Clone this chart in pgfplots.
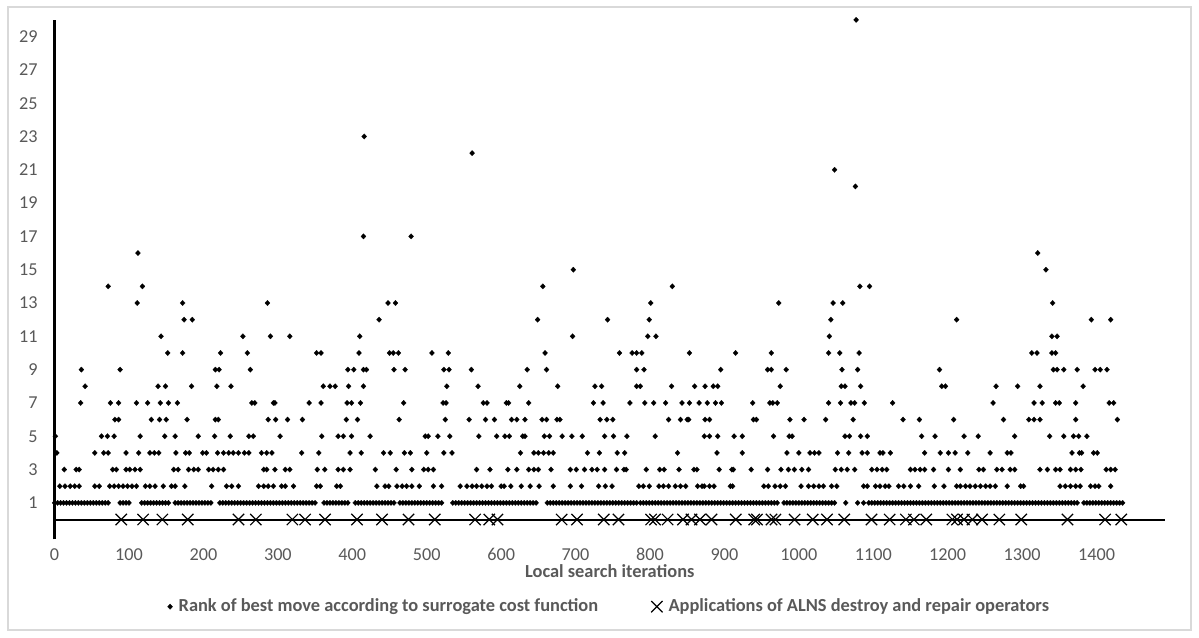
\documentclass[border=0pt]{standalone}
\usepackage{pgfplots}
\pgfplotsset{compat=1.18}
\usepackage{fontspec}
\setmainfont{Carlito}
\definecolor{txt}{HTML}{595959}
\definecolor{frame}{HTML}{D9D9D9}
\begin{document}
\begin{tikzpicture}
\path[use as bounding box] (0,0) rectangle (599.5pt,318.5pt);
\draw[frame,line width=0.6pt] (4pt,3.5pt) rectangle (595.5pt,315pt);
\begin{axis}[
  at={(27.3pt,48.75pt)}, anchor=south west,
  scale only axis, width=555.2pt, height=259.8pt,
  xmin=0, xmax=1492, ymin=-1.2, ymax=30,
  clip=false,
  axis lines*=left,
  x axis line style={draw=none},
  y axis line style={-,line width=1.2pt,black},
  xtick={0,100,...,1400},
  ytick={1,3,...,29},
  major tick length=0pt,
  /pgf/number format/assume math mode=true,
  /pgf/number format/1000 sep={},
  tick label style={font=\fontsize{9.1pt}{10pt}\selectfont, text=txt},
  yticklabel style={xshift=-5pt},
  xticklabel style={yshift=-1pt},
  xlabel={Local search iterations},
  xlabel style={at={(axis description cs:0.5,-0.0606)}, anchor=center, font=\fontsize{9.2pt}{10pt}\selectfont\bfseries, text=txt},
  legend style={at={(axis description cs:0.5,-0.1293)}, anchor=center, draw=none, fill=none,
    font=\fontsize{9.2pt}{10pt}\selectfont\bfseries, text=txt, legend columns=2,
    inner sep=0pt, nodes={inner sep=1.5pt},
    /tikz/every odd column/.append style={column sep=1.5pt},
    /tikz/every even column/.append style={column sep=25pt}},
  legend image code/.code={\draw[#1] plot coordinates {(0pt,0pt)};},
  legend cell align=left,
]
\draw[black,line width=1pt] (axis cs:0,0) -- (axis cs:1492,0);
\addplot[only marks, mark=diamond*, mark size=1.35pt, mark options={xscale=1.25,fill=black,draw=black,line width=0.1pt}] coordinates {
(1077,30)(416,23)(561,22)(1048,21)(1076,20)
(415,17)(479,17)
(112,16)(1321,16)
(697,15)(1332,15)
(72,14)(118,14)(656,14)(830,14)(1082,14)(1095,14)
(111,13)(172,13)(286,13)(448,13)(458,13)(801,13)(973,13)(1046,13)(1059,13)(1341,13)
(174,12)(185,12)(436,12)(649,12)(743,12)(799,12)(1043,12)(1212,12)(1393,12)(1419,12)
(143,11)(253,11)(290,11)(316,11)(410,11)(696,11)(797,11)(808,11)(1041,11)(1340,11)(1347,11)
(152,10)(172,10)(223,10)(259,10)(352,10)(358,10)(409,10)(450,10)(455,10)(462,10)(507,10)(529,10)(659,10)(759,10)(776,10)(782,10)(789,10)(853,10)(915,10)(963,10)(1040,10)(1055,10)(1081,10)(1313,10)(1320,10)(1340,10)(1345,10)
(36,9)(88,9)(216,9)(221,9)(263,9)(394,9)(402,9)(415,9)(419,9)(456,9)(471,9)(523,9)(530,9)(560,9)(635,9)(661,9)(782,9)(792,9)(895,9)(958,9)(963,9)(983,9)(1058,9)(1079,9)(1189,9)(1342,9)(1347,9)(1356,9)(1374,9)(1398,9)(1405,9)(1414,9)
(41,8)(139,8)(149,8)(184,8)(218,8)(237,8)(361,8)(370,8)(377,8)(395,8)(415,8)(527,8)(569,8)(625,8)(676,8)(726,8)(735,8)(782,8)(787,8)(829,8)(860,8)(874,8)(885,8)(891,8)(975,8)(1057,8)(1062,8)(1083,8)(1192,8)(1197,8)(1265,8)(1294,8)(1324,8)(1382,8)
(35,7)(75,7)(86,7)(110,7)(125,7)(142,7)(153,7)(165,7)(265,7)(269,7)(294,7)(296,7)(342,7)(358,7)(393,7)(399,7)(411,7)(469,7)(522,7)(526,7)(576,7)(581,7)(607,7)(610,7)(637,7)(724,7)(737,7)(773,7)(793,7)(805,7)(821,7)(843,7)(853,7)(866,7)(877,7)(888,7)(896,7)(938,7)(961,7)(965,7)(971,7)(1040,7)(1056,7)(1070,7)(1075,7)(1088,7)(1126,7)(1261,7)(1316,7)(1327,7)(1345,7)(1350,7)(1372,7)(1417,7)(1423,7)
(81,6)(86,6)(130,6)(141,6)(150,6)(178,6)(216,6)(220,6)(287,6)(297,6)(313,6)(333,6)(392,6)(407,6)(463,6)(525,6)(557,6)(579,6)(591,6)(614,6)(621,6)(632,6)(655,6)(661,6)(675,6)(679,6)(733,6)(742,6)(750,6)(825,6)(841,6)(850,6)(852,6)(874,6)(880,6)(939,6)(943,6)(988,6)(1007,6)(1036,6)(1073,6)(1140,6)(1162,6)(1208,6)(1275,6)(1309,6)(1316,6)(1324,6)(1372,6)(1428,6)
(1,5)(63,5)(71,5)(80,5)(115,5)(148,5)(162,5)(193,5)(215,5)(236,5)(261,5)(267,5)(303,5)(359,5)(381,5)(388,5)(399,5)(424,5)(498,5)(502,5)(515,5)(531,5)(570,5)(594,5)(605,5)(611,5)(629,5)(632,5)(658,5)(665,5)(682,5)(695,5)(709,5)(739,5)(751,5)(769,5)(807,5)(873,5)(880,5)(891,5)(913,5)(924,5)(966,5)(987,5)(991,5)(1062,5)(1068,5)(1083,5)(1092,5)(1165,5)(1183,5)(1222,5)(1241,5)(1290,5)(1337,5)(1356,5)(1369,5)(1376,5)(1387,5)
(3,4)(54,4)(66,4)(72,4)(96,4)(113,4)(128,4)(134,4)(140,4)(163,4)(176,4)(181,4)(199,4)(204,4)(219,4)(227,4)(234,4)(240,4)(247,4)(255,4)(261,4)(278,4)(285,4)(292,4)(332,4)(355,4)(397,4)(412,4)(442,4)(451,4)(470,4)(478,4)(500,4)(523,4)(534,4)(626,4)(644,4)(650,4)(657,4)(664,4)(670,4)(716,4)(732,4)(756,4)(766,4)(837,4)(890,4)(924,4)(984,4)(1000,4)(1015,4)(1021,4)(1027,4)(1052,4)(1067,4)(1085,4)(1092,4)(1109,4)(1113,4)(1123,4)(1169,4)(1190,4)(1201,4)(1210,4)(1227,4)(1257,4)(1280,4)(1285,4)(1367,4)(1377,4)(1380,4)(1396,4)(1401,4)
(13,3)(29,3)(33,3)(78,3)(83,3)(96,3)(101,3)(108,3)(115,3)(160,3)(166,3)(180,3)(187,3)(193,3)(207,3)(213,3)(220,3)(227,3)(281,3)(285,3)(296,3)(310,3)(316,3)(353,3)(363,3)(381,3)(388,3)(397,3)(431,3)(459,3)(480,3)(496,3)(502,3)(509,3)(567,3)(585,3)(609,3)(621,3)(637,3)(644,3)(650,3)(667,3)(693,3)(701,3)(712,3)(722,3)(729,3)(739,3)(755,3)(765,3)(768,3)(795,3)(813,3)(819,3)(839,3)(859,3)(863,3)(893,3)(910,3)(912,3)(936,3)(958,3)(976,3)(986,3)(994,3)(1004,3)(1013,3)(1049,3)(1057,3)(1065,3)(1075,3)(1098,3)(1105,3)(1112,3)(1118,3)(1150,3)(1156,3)(1163,3)(1169,3)(1181,3)(1201,3)(1217,3)(1242,3)(1248,3)(1266,3)(1273,3)(1284,3)(1290,3)(1324,3)(1334,3)(1345,3)(1351,3)(1365,3)(1372,3)(1379,3)(1413,3)(1419,3)(1425,3)
(7,2)(14,2)(21,2)(27,2)(33,2)(54,2)(60,2)(74,2)(80,2)(86,2)(92,2)(98,2)(104,2)(110,2)(122,2)(128,2)(135,2)(146,2)(157,2)(162,2)(175,2)(211,2)(231,2)(238,2)(247,2)(274,2)(281,2)(287,2)(294,2)(305,2)(310,2)(321,2)(352,2)(357,2)(379,2)(384,2)(433,2)(444,2)(449,2)(460,2)(467,2)(473,2)(480,2)(490,2)(509,2)(520,2)(545,2)(554,2)(561,2)(567,2)(574,2)(581,2)(587,2)(600,2)(604,2)(613,2)(627,2)(639,2)(651,2)(670,2)(693,2)(708,2)(731,2)(740,2)(749,2)(785,2)(791,2)(799,2)(812,2)(818,2)(825,2)(834,2)(841,2)(848,2)(864,2)(870,2)(873,2)(880,2)(886,2)(908,2)(911,2)(953,2)(959,2)(968,2)(975,2)(982,2)(1003,2)(1013,2)(1020,2)(1027,2)(1033,2)(1044,2)(1051,2)(1087,2)(1092,2)(1103,2)(1109,2)(1116,2)(1121,2)(1134,2)(1141,2)(1150,2)(1161,2)(1182,2)(1195,2)(1212,2)(1217,2)(1224,2)(1230,2)(1237,2)(1244,2)(1251,2)(1257,2)(1264,2)(1280,2)(1298,2)(1302,2)(1351,2)(1358,2)(1365,2)(1372,2)(1378,2)(1392,2)(1398,2)(1403,2)(1419,2)
(0,1)(4,1)(8,1)(12,1)(16,1)(20,1)(24,1)(28,1)(32,1)(36,1)(40,1)(44,1)(48,1)(52,1)(56,1)(60,1)(64,1)(68,1)(72,1)
(88,1)(92,1)(96,1)(100,1)
(117,1)(121,1)(125,1)(129,1)(133,1)(137,1)(141,1)(145,1)(149,1)(153,1)
(162,1)(166,1)(170,1)(174,1)(178,1)(182,1)(186,1)(190,1)(194,1)(198,1)(202,1)(206,1)(210,1)
(222,1)(226,1)(230,1)(234,1)(238,1)(242,1)(246,1)(250,1)(254,1)(258,1)(262,1)(266,1)(270,1)(274,1)(278,1)(282,1)(286,1)(290,1)(294,1)(298,1)(302,1)(306,1)(310,1)(314,1)(318,1)(322,1)(326,1)(330,1)(334,1)(338,1)(342,1)(346,1)(350,1)
(362,1)(366,1)(370,1)(374,1)(378,1)(382,1)(386,1)(390,1)(394,1)
(404,1)(408,1)(412,1)(416,1)(420,1)(424,1)(428,1)(432,1)(436,1)(440,1)(444,1)(448,1)(452,1)(456,1)
(464,1)(468,1)(472,1)(476,1)(480,1)(484,1)(488,1)(492,1)(496,1)(500,1)(504,1)(508,1)(512,1)(516,1)(520,1)
(535,1)(539,1)(543,1)(547,1)(551,1)(555,1)(559,1)(563,1)(567,1)(571,1)(575,1)(579,1)(583,1)(587,1)(591,1)(595,1)(599,1)(603,1)(607,1)(611,1)(615,1)(619,1)(623,1)(627,1)(631,1)(635,1)(639,1)(643,1)(647,1)
(662,1)(666,1)(670,1)(674,1)(678,1)(682,1)(686,1)(690,1)(694,1)(698,1)(702,1)(706,1)(710,1)(714,1)(718,1)(722,1)(726,1)(730,1)(734,1)(738,1)(742,1)(746,1)(750,1)(754,1)(758,1)(762,1)(766,1)(770,1)(774,1)(778,1)(782,1)
(787,1)(791,1)(795,1)(799,1)(803,1)(807,1)(811,1)(815,1)(819,1)(823,1)(827,1)(831,1)(835,1)(839,1)(843,1)(847,1)(851,1)(855,1)(859,1)(863,1)(867,1)(871,1)(875,1)(879,1)(883,1)(887,1)(891,1)(895,1)(899,1)(903,1)(907,1)(911,1)(915,1)(919,1)(923,1)(927,1)(931,1)(935,1)(939,1)(943,1)(947,1)(951,1)(955,1)(959,1)(963,1)(967,1)(971,1)
(980,1)(984,1)(988,1)(992,1)(996,1)(1000,1)(1004,1)(1008,1)(1012,1)(1016,1)(1020,1)(1024,1)(1028,1)(1032,1)(1036,1)(1040,1)(1044,1)(1048,1)
(1063,1)(1079,1)(1087,1)
(1094,1)(1098,1)(1102,1)(1106,1)(1110,1)(1114,1)(1118,1)(1122,1)(1126,1)(1130,1)(1134,1)(1138,1)(1142,1)(1146,1)(1150,1)(1154,1)(1158,1)(1162,1)(1166,1)(1170,1)(1174,1)(1178,1)(1182,1)(1186,1)(1190,1)(1194,1)(1198,1)(1202,1)(1206,1)(1210,1)(1214,1)(1218,1)(1222,1)(1226,1)(1230,1)(1234,1)(1238,1)(1242,1)(1246,1)(1250,1)(1254,1)(1258,1)(1262,1)(1266,1)(1270,1)(1274,1)(1278,1)(1282,1)(1286,1)(1290,1)(1294,1)(1298,1)(1302,1)(1306,1)(1310,1)(1314,1)(1318,1)(1322,1)(1326,1)(1330,1)(1334,1)(1338,1)(1342,1)(1346,1)(1350,1)(1354,1)(1358,1)(1362,1)(1366,1)(1370,1)(1374,1)
(1383,1)(1387,1)(1391,1)(1395,1)(1399,1)(1403,1)(1407,1)(1411,1)(1415,1)(1419,1)(1423,1)(1427,1)(1431,1)(1435,1)
};
\addlegendentry{Rank of best move according to surrogate cost function}
\addplot[only marks, mark=x, mark size=4pt, mark options={draw=black,line width=0.6pt}] coordinates {
(89.5,0)(118.9,0)(144.8,0)(178.9,0)(247.1,0)(270.4,0)(319.5,0)(336.6,0)(363.4,0)(406.3,0)(439.9,0)(475.6,0)(510.8,0)(565,0)(584.1,0)(595,0)(681.3,0)(702,0)
(737.9,0)(757.6,0)(801.5,0)(806.7,0)(823.7,0)(844.4,0)(855.8,0)(867.2,0)(882.7,0)(915.2,0)(940,0)(943.7,0)(963.3,0)(968.5,0)(994.3,0)(1018.6,0)(1037.8,0)(1061,0)(1097.7,0)(1122,0)(1143.8,0)(1154.6,0)(1171.2,0)(1206.3,0)(1212.5,0)(1221.8,0)(1233.2,0)(1246.1,0)(1269.4,0)(1298.8,0)(1360.9,0)(1411.5,0)(1433.3,0)
};
\addlegendentry{Applications of ALNS destroy and repair operators}
\end{axis}
\end{tikzpicture}
\end{document}
